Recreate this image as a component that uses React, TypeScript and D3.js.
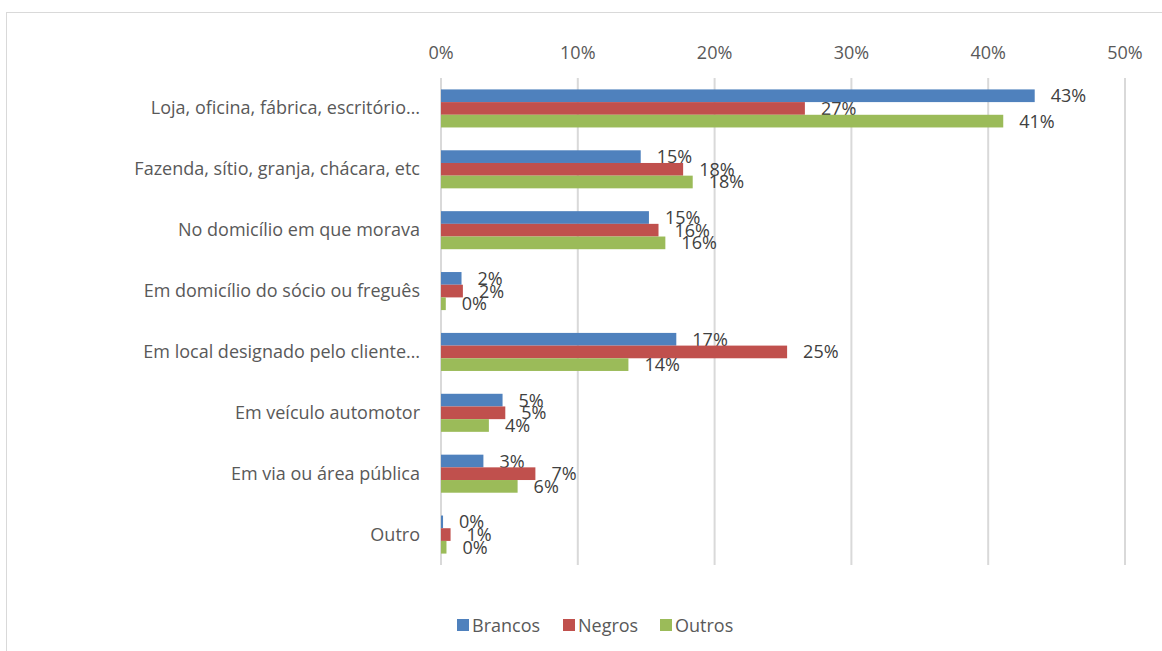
import React from "react";
import * as d3 from "d3";

const categories = [
  "Loja, oficina, fábrica, escritório…",
  "Fazenda, sítio, granja, chácara, etc",
  "No domicílio em que morava",
  "Em domicílio do sócio ou freguês",
  "Em local designado pelo cliente…",
  "Em veículo automotor",
  "Em via ou área pública",
  "Outro",
];
const seriesNames = ["Brancos", "Negros", "Outros"];
const brancos = [43.4, 14.6, 15.2, 1.5, 17.2, 4.5, 3.1, 0.15];
const negros = [26.6, 17.7, 15.9, 1.6, 25.3, 4.7, 6.9, 0.7];
const outros = [41.1, 18.4, 16.4, 0.35, 13.7, 3.5, 5.6, 0.4];
const tickValues = [0, 10, 20, 30, 40, 50];
const colors = ["#4F81BD", "#C0504D", "#9BBB59"];

const FONT = "'Open Sans', sans-serif";
const FS = 18;

export default function App() {
  const W = 1162, H = 651;
  const x = d3.scaleLinear().domain([0, 50]).range([441, 1125]);
  const y = d3.scaleBand().domain(categories).range([78, 565]).paddingInner(0.375).paddingOuter(0.1875);
  const sub = d3.scaleBand().domain(seriesNames).range([0, y.bandwidth()]);
  const values = [brancos, negros, outros];
  const legendX = [457, 563, 660];
  return (
    <svg width={W} height={H} style={{ position: "absolute", left: 0, top: 0 }} fontFamily={FONT}>
      <rect x={0} y={0} width={W} height={H} fill="#fff" />
      <line x1={6.5} y1={12} x2={6.5} y2={H} stroke="#d9d9d9" strokeWidth={1} />
      <line x1={6} y1={12.5} x2={W} y2={12.5} stroke="#d9d9d9" strokeWidth={1} />
      {tickValues.map((t) => (
        <g key={t}>
          <line x1={x(t)} x2={x(t)} y1={78} y2={565} stroke="#d9d9d9" strokeWidth={2} />
          <text x={x(t)} y={59} textAnchor="middle" fontSize={FS} fill="#595959">{t}%</text>
        </g>
      ))}
      {categories.map((c, i) => (
        <g key={c}>
          <text x={420} y={(y(c) as number) + y.bandwidth() / 2 + 6} textAnchor="end" fontSize={FS} fill="#595959">{c}</text>
          {seriesNames.map((s, j) => {
            const v = values[j][i];
            const by = (y(c) as number) + (sub(s) as number);
            return (
              <g key={s}>
                <rect x={x(0)} y={by} width={x(v) - x(0)} height={sub.bandwidth()} fill={colors[j]} />
                <text x={x(v) + 16} y={by + sub.bandwidth() / 2 + 6.5} fontSize={FS} fill="#404040">{Math.round(v)}%</text>
              </g>
            );
          })}
        </g>
      ))}
      {seriesNames.map((s, j) => (
        <g key={s}>
          <rect x={legendX[j]} y={619} width={12} height={12} fill={colors[j]} />
          <text x={legendX[j] + 15} y={631.5} fontSize={FS} fill="#595959">{s}</text>
        </g>
      ))}
    </svg>
  );
}
